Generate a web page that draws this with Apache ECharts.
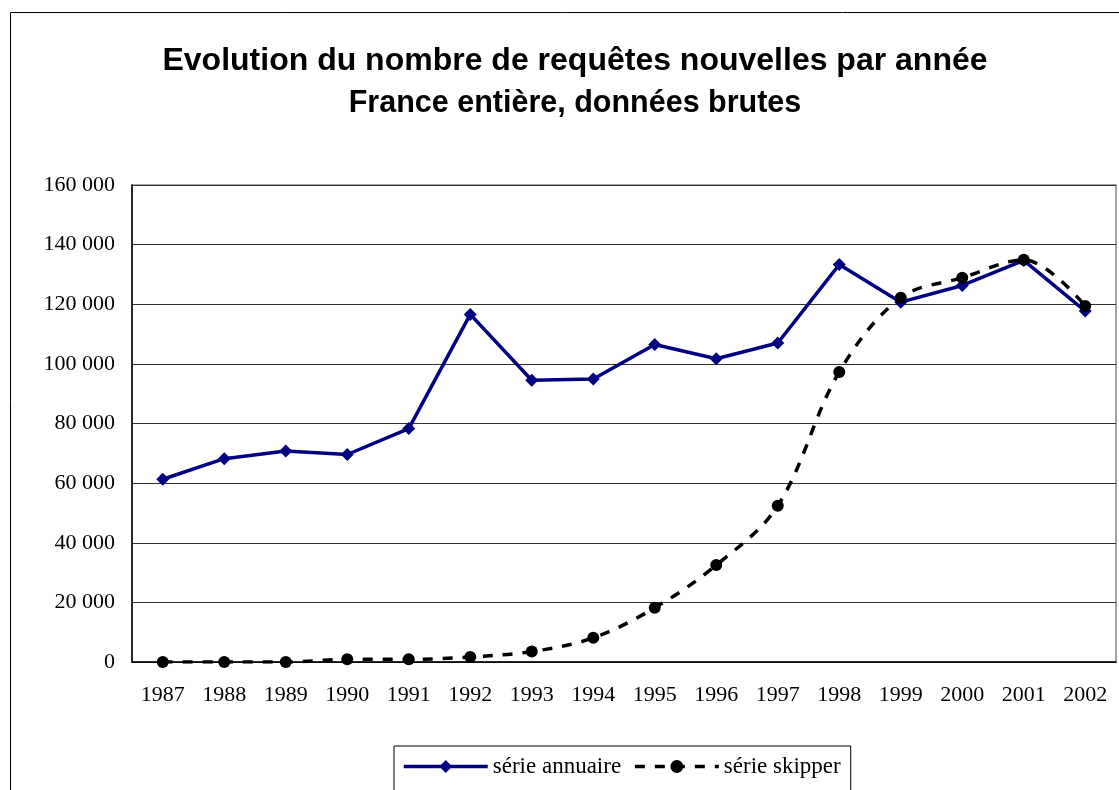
<!DOCTYPE html>
<html>
<head>
<meta charset="utf-8">
<script src="https://cdn.jsdelivr.net/npm/echarts@6/dist/echarts.min.js"></script>
<style>
    html, body { margin: 0; padding: 0; background: #fff; }
    #chart { width: 1119px; height: 790px; }
</style>
</head>
<body>
<div id="chart"></div>
<script>
// 数据
const years = ['1987', '1988', '1989', '1990', '1991', '1992', '1993', '1994',
               '1995', '1996', '1997', '1998', '1999', '2000', '2001', '2002'];
const serieAnnuaire = [61300, 68200, 70800, 69600, 78300, 116600, 94500, 94900,
                       106500, 101700, 107000, 133300, 120700, 126300, 134700, 117700];
const serieSkipper = [0, 0, 0, 900, 900, 1700, 3500, 8100,
                      18200, 32500, 52400, 97300, 122200, 128900, 134900, 119400];
const yTicks = { min: 0, max: 160000, interval: 20000 };

function fmtNombre(v) {
    // 160000 -> "160 000"
    const s = String(v);
    return s.length > 3 ? s.slice(0, s.length - 3) + ' ' + s.slice(-3) : s;
}

const chart = echarts.init(document.getElementById('chart'));
const serif = '"Liberation Serif", "DejaVu Serif", serif';
const sans = '"Liberation Sans", Arial, sans-serif';

const option = {
    animation: false,
    backgroundColor: '#fff',
    title: {
        text: 'Evolution du nombre de requêtes nouvelles par année',
        subtext: 'France entière, données brutes',
        left: 570,
        textAlign: 'center',
        top: 40,
        itemGap: 11,
        textStyle: { fontFamily: sans, fontWeight: 'bold', fontSize: 32, color: '#000' },
        subtextStyle: { fontFamily: sans, fontWeight: 'bold', fontSize: 30.5, color: '#000' }
    },
    graphic: [
        {
            type: 'rect',
            shape: { x: 10.5, y: 12.5, width: 1200, height: 900 },
            style: { fill: 'none', stroke: '#000', lineWidth: 1 },
            silent: true
        }
    ],
    legend: {
        left: 394,
        top: 746,
        padding: [9, 10, 30, 8],
        borderColor: '#000',
        borderWidth: 1,
        itemWidth: 84,
        itemHeight: 16,
        itemGap: 12,
        textStyle: { fontFamily: serif, fontSize: 23, color: '#000' },
        data: [
            { name: 'série annuaire', lineStyle: { width: 3.5 } },
            { name: 'série skipper', lineStyle: { width: 3.5 } }
        ]
    },
    grid: {
        left: 132,
        top: 185,
        right: 3,
        bottom: 128,
        show: true,
        borderColor: '#888',
        borderWidth: 1.5
    },
    xAxis: {
        type: 'category',
        data: years,
        boundaryGap: true,
        axisLine: { lineStyle: { color: '#000', width: 1.5 } },
        axisTick: { inside: true, length: 7, lineStyle: { color: '#000' } },
        axisLabel: { fontFamily: serif, fontSize: 22, color: '#000', margin: 22 }
    },
    yAxis: {
        type: 'value',
        min: yTicks.min,
        max: yTicks.max,
        interval: yTicks.interval,
        axisLine: { show: true, lineStyle: { color: '#000', width: 1.5 } },
        axisTick: { show: false },
        splitLine: { lineStyle: { color: '#333', width: 1 } },
        axisLabel: {
            fontFamily: serif, fontSize: 22, color: '#000', margin: 17,
            formatter: fmtNombre
        }
    },
    series: [
        {
            name: 'série annuaire',
            type: 'line',
            data: serieAnnuaire,
            symbol: 'diamond',
            symbolSize: 13,
            lineStyle: { color: '#000080', width: 3.5 },
            itemStyle: { color: '#000080' },
            z: 3
        },
        {
            name: 'série skipper',
            type: 'line',
            data: serieSkipper,
            smooth: 0.35,
            symbol: 'circle',
            symbolSize: 12,
            lineStyle: { color: '#000', width: 3.5, type: [10, 10] },
            itemStyle: { color: '#000' },
            z: 4
        }
    ]
};
chart.setOption(option);
</script>
</body>
</html>
